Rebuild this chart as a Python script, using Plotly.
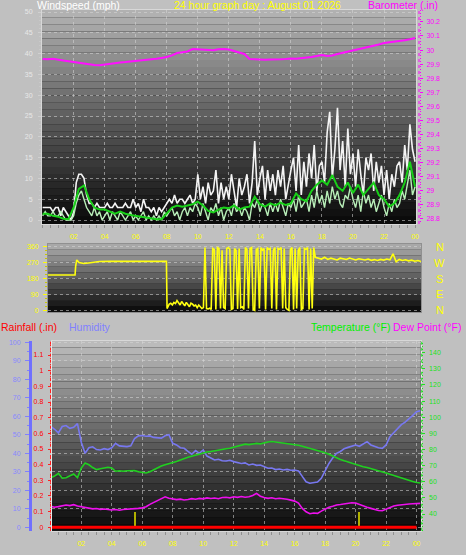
import plotly.graph_objects as go

W, H = 466, 555

# ---------------- data ----------------
hour_ticks = [2, 4, 6, 8, 10, 12, 14, 16, 18, 20, 22, 24]
hour_labels = ["02", "04", "06", "08", "10", "12", "14", "16", "18", "20", "22", "00"]

# barometer (.in), every 20 min
baro_in = [
    29.936, 29.934, 29.938, 29.930, 29.925, 29.921, 29.915, 29.910, 29.902,
    29.900, 29.894, 29.892, 29.898, 29.902, 29.905, 29.912, 29.915, 29.918,
    29.922, 29.925, 29.930, 29.935, 29.938, 29.944, 29.950, 29.962, 29.979,
    29.984, 29.990, 30.007, 30.006, 30.004, 30.003, 29.999, 30.006, 30.008,
    30.004, 29.995, 29.985, 29.972, 29.936, 29.933, 29.932, 29.931, 29.933,
    29.932, 29.934, 29.936, 29.940, 29.938, 29.942, 29.943, 29.950, 29.958,
    29.964, 29.958, 29.962, 29.972, 29.980, 29.988, 30.000, 30.008, 30.016,
    30.025, 30.032, 30.040, 30.050, 30.054, 30.058, 30.064, 30.070, 30.077,
    30.085]

# wind gust (mph), every 10 min
gust_mph = [
    3, 3, 3, 3, 2, 3,   3, 1, 3, 2, 1, 0,   2, 9, 11, 11, 10, 6,
    4, 4, 3, 4, 3, 3,   3, 4, 3, 3, 4, 3,   3, 3, 4, 3, 3, 5,
    3, 4, 2, 5, 3, 3,   2, 3, 1, 3, 2, 3,   4, 5, 4, 6, 4, 5,
    5, 4, 5, 6, 4, 5,   11, 5, 8, 4, 9, 6,  7, 12, 4, 9, 5, 8,
    5, 11, 7, 3, 10, 6, 8, 11, 4, 9, 19, 6, 10, 13, 5, 12, 7, 11,
    6, 12, 8, 13, 5, 9, 12, 15, 7, 18, 6, 14, 8, 16, 10, 18, 7, 13,
    14, 9, 21, 26, 10, 17, 27, 12, 19, 8, 22, 11, 16, 8, 17, 11, 6, 15,
    12, 16, 7, 14, 9, 13, 6, 12, 5, 11, 8, 13, 14, 9, 18, 12, 23, 17,
    14]

# wind speed (mph), every 10 min
speed_mph = [
    1, 2, 1, 1, 2, 1,  1, 2, 1, 0, 0, 0,  1, 4, 6, 7, 5, 3,
    2, 1, 3, 1, 2, 0,  1, 2, 0, 2, 1, 0,  2, 1, 0, 1, 2, 0,
    1, 0, 1, 2, 0, 1,  0, 1, 0, 1, 0, 2,  1, 2, 3, 1, 2, 0,
    2, 3, 1, 3, 2, 4,  3, 1, 4, 2, 0, 3,  2, 4, 1, 3, 0, 2,
    3, 1, 4, 2, 3, 1,  3, 2, 0, 4, 3, 5,  2, 4, 3, 1, 4, 2,
    4, 2, 5, 3, 1, 4,  3, 5, 2, 6, 3, 4,  5, 2, 6, 3, 7, 4,
    6, 3, 7, 4, 8, 5,  7, 4, 3, 6, 5, 8,  5, 3, 6, 2, 7, 4,
    6, 3, 5, 2, 4, 6,  3, 1, 4, 2, 5, 3,  4, 7, 5, 9, 12, 6,
    8]

# average wind (mph), every 20 min
avg_mph = [
    1.5, 1.5, 1.0, 0.8, 0.3, 0.2, 3.0, 7.5, 8.3, 5.0, 3.0, 2.5,
    2.5, 2.0, 1.5, 2.0, 1.5, 1.2, 1.0, 0.8, 0.5, 0.3, 0.2, 0.2,
    1.5, 3.0, 3.5, 3.2, 3.5, 3.8, 4.4, 3.5, 2.2, 1.8, 2.5, 3.0,
    2.8, 3.5, 2.5, 3.0, 3.2, 5.6, 3.8, 3.2, 4.0, 3.5, 4.2, 3.6,
    4.0, 6.4, 5.0, 4.5, 7.0, 8.5, 9.5, 8.5, 10.8, 8.0, 7.0, 9.0,
    6.5, 8.5, 6.0, 7.5, 9.0, 6.0, 5.0, 3.2, 4.0, 6.0, 9.0, 14.0,
    8.0]

# wind direction (degrees)
wdir_a_hours = [0, 1.74, 1.78, 1.85, 2.0, 2.3, 2.6, 3.0, 3.3, 4.0, 5.0, 6.0, 7.0, 7.62, 7.66]
wdir_a_deg = [200, 200, 250, 285, 270, 265, 268, 272, 276, 277, 277, 277, 277, 277, 10]
wdir_b_deg = [20, 35, 40, 30, 45, 38, 55, 42, 30, 50, 35, 25, 45, 30, 20, 40, 35, 25,
              30, 15, 30, 20, 10]                       # from 7.7 h, every 0.1 h
wdir_c_deg = [15, 355, 10, 8, 12, 5, 350, 345, 5, 355, 350, 10, 340, 15, 10, 350,
              355, 345, 5, 10, 350, 340, 8, 350, 15, 20, 5, 355, 345, 10, 350, 355,
              5, 0, 345, 350, 10, 355, 340, 350, 5, 355, 345, 350, 10, 340, 355, 5,
              350, 345, 355, 10, 350, 15, 5, 0, 345, 355, 5, 350, 10, 340, 355, 5,
              10, 350, 345, 355, 5, 350, 10, 355, 300]   # from 10.0 h, every 0.1 h
wdir_d_deg = [295, 290, 300, 288, 295, 292, 285, 295, 290, 288, 296, 290, 285, 292,
              288, 285, 290, 283, 287, 282, 288, 284, 290, 286, 320, 275, 288, 282,
              286, 280, 284, 278, 282, 276]             # from 17.4 h, every 0.2 h
compass_deg = [360, 270, 180, 90, 0]
compass_labels = ["N", "W", "S", "E", "N"]

# humidity (%), every 15 min
humidity_pct = [
    54.5, 53, 51, 54.5, 55, 53.5, 54, 56, 46, 40, 43, 43.5, 42, 41.8, 42.5, 42,
    43, 45.4, 44, 43.6, 43.6, 44, 48, 49.4, 49.6, 49.2, 49.4, 48.6, 48.4, 48.2,
    49.5, 50, 45.4, 44.5, 43, 42.7, 41, 39.5, 41.5, 40, 41.8, 38.5, 37.5, 36.4,
    36.8, 36, 35.8, 36.2, 35.5, 35, 34.5, 34.8, 33.7, 34.2, 33.5, 33.7, 33, 31.9,
    32, 31.2, 31.5, 31, 31.3, 30.8, 31, 30.5, 27.5, 24.6, 23.8, 24.2, 24.5, 26.5,
    30.5, 34.5, 37.5, 40, 41, 42.5, 43.2, 44, 44.5, 43.8, 45, 46.3, 44.5, 43.6,
    43, 42.7, 44.5, 49, 51, 53.5, 55.5, 56.8, 58.5, 60.5, 62.5, 63]

# temperature (F), every 15 min
temp_f = [
    62.5, 63.5, 65.2, 62.2, 62.5, 63.5, 64.8, 62.5, 68.5, 71.6, 70.5, 68.8,
    67.5, 68, 68.6, 69, 68.5, 66.5, 66.8, 66.5, 66.8, 67, 66.9, 66.2, 65.6,
    65.4, 66.2, 67.5, 68.6, 69.8, 70.6, 71.2, 72, 72.6, 73.5, 74.5, 75.2, 75.8,
    76.5, 77, 77.8, 78.4, 78.7, 79.2, 79.8, 80.2, 80.5, 80.8, 81.5, 82, 82.8,
    83.3, 83, 83.6, 83.8, 83.5, 84.2, 84.6, 84.9, 84.6, 84.5, 84, 83.8, 83.5,
    83, 82.6, 82, 81.4, 80.8, 80.2, 79.6, 79, 78, 77, 75.8, 74.6, 73.8, 73,
    72.2, 71.3, 70.6, 70, 69.3, 68.8, 68.2, 67.6, 67, 66.2, 65.4, 64.6, 63.8,
    63.2, 62.4, 61.6, 61, 60.2, 59.5, 59.2]

# dew point (F), every 15 min
dew_f = [
    44.8, 44.2, 44.6, 45, 45.6, 45.2, 45.8, 45, 44.5, 44, 43.8, 43.2, 43.4,
    42.9, 43.1, 42.6, 42.5, 42.8, 42.3, 42.8, 42.9, 43, 43.3, 43.5, 43.8, 44.5,
    46, 47.2, 48.3, 50, 50.7, 49.8, 49.4, 48.9, 49.2, 48.7, 49, 49.5, 49.2, 49.7,
    49.4, 50, 49.6, 49.9, 49.5, 50.2, 50.4, 50, 50.7, 50.3, 50.8, 50.4, 50.7,
    51.5, 52.8, 51, 50.2, 49.7, 50.1, 49.5, 49.8, 49.7, 49.2, 48.6, 48, 46.8,
    43.5, 41.4, 40.2, 40.6, 40.4, 41.8, 43, 44.2, 44.8, 45.6, 45.9, 46.2, 46.6,
    47, 46.8, 45.8, 45, 44.2, 43.5, 42.8, 42.2, 42, 43, 44.5, 45, 45.4, 45.8,
    46, 46.2, 46.4, 46.5, 46.6]

# rainfall (.in), hourly
rain_in = [0.0] * 25
# event marks on rainfall axis
event_hours = [5.5, 20.2]
event_in = [0.1, 0.1]

# ---------------- helpers ----------------
def xd(p0, p1):
    return [p0 / W, p1 / W]

def yd(top, bottom):
    return [1 - bottom / H, 1 - top / H]

FONT = "Liberation Sans, Arial, sans-serif"
GRID = "rgba(215,215,215,0.55)"

t10 = [i / 6 for i in range(len(gust_mph))]
t10s = [i / 6 for i in range(len(speed_mph))]
t20 = [i / 3 for i in range(len(avg_mph))]
t20b = [i / 3 for i in range(len(baro_in))]
t15 = [i / 4 for i in range(len(humidity_pct))]
t15t = [i / 4 for i in range(len(temp_f))]
t15d = [i / 4 for i in range(len(dew_f))]
t_rain = [float(i) for i in range(len(rain_in))]

wdir_hours = (wdir_a_hours
              + [round(7.7 + 0.1 * i, 2) for i in range(len(wdir_b_deg))]
              + [round(10.0 + 0.1 * i, 2) for i in range(len(wdir_c_deg))]
              + [round(17.4 + 0.2 * i, 2) for i in range(len(wdir_d_deg))])
wdir_deg = wdir_a_deg + wdir_b_deg + wdir_c_deg + wdir_d_deg

fig = go.Figure()

# ---------------- top panel ----------------
fig.add_trace(go.Scatter(x=t10, y=gust_mph, mode="lines", xaxis="x", yaxis="y",
                         line=dict(color="#f4f4f4", width=1.6), hoverinfo="skip"))
fig.add_trace(go.Scatter(x=t10s, y=speed_mph, mode="lines", xaxis="x", yaxis="y",
                         line=dict(color="#b8eeb8", width=1.4), hoverinfo="skip"))
fig.add_trace(go.Scatter(x=t20, y=avg_mph, mode="lines", xaxis="x", yaxis="y",
                         line=dict(color="#18d018", width=2), hoverinfo="skip"))
fig.add_trace(go.Scatter(x=t20b, y=baro_in, mode="lines", xaxis="x", yaxis="y2",
                         line=dict(color="#ff10ff", width=2), hoverinfo="skip"))

# ---------------- middle panel ----------------
fig.add_trace(go.Scatter(x=wdir_hours, y=wdir_deg, mode="lines", xaxis="x2", yaxis="y3",
                         line=dict(color="#ffff10", width=1.6), hoverinfo="skip"))

# ---------------- bottom panel ----------------
fig.add_trace(go.Bar(x=event_hours, y=event_in, xaxis="x3", yaxis="y5", width=0.15,
                     marker=dict(color="#b0b000", line=dict(width=0)), hoverinfo="skip"))
fig.add_trace(go.Scatter(x=t15, y=humidity_pct, mode="lines", xaxis="x3", yaxis="y6",
                         line=dict(color="#7878f0", width=1.6), hoverinfo="skip"))
fig.add_trace(go.Scatter(x=t15t, y=temp_f, mode="lines", xaxis="x3", yaxis="y7",
                         line=dict(color="#20d020", width=1.6), hoverinfo="skip"))
fig.add_trace(go.Scatter(x=t15d, y=dew_f, mode="lines", xaxis="x3", yaxis="y7",
                         line=dict(color="#ee10ee", width=1.6), hoverinfo="skip"))
fig.add_trace(go.Scatter(x=t_rain, y=rain_in, mode="lines", xaxis="x3", yaxis="y5",
                         line=dict(color="#ff0000", width=3), hoverinfo="skip"))

tickfont = dict(family=FONT, size=7)

def xaxis_cfg(domain, rng, anchor, labels=True, grid=True, linecolor="#d8d8d8"):
    return dict(domain=domain, range=rng, anchor=anchor,
                tickmode="array", tickvals=hour_ticks, ticktext=hour_labels,
                showticklabels=labels, tickfont=dict(tickfont, color="#ffff00"),
                ticks="outside" if labels else "", ticklen=3, tickcolor="#909090",
                ticklabelstandoff=3,
                minor=dict(tick0=0, dtick=0.5, ticks="outside" if labels else "",
                           ticklen=3, tickcolor="#909090", showgrid=False),
                showgrid=grid, gridcolor=GRID, griddash="dot", gridwidth=1,
                showline=True, linecolor=linecolor, linewidth=1, mirror=True,
                zeroline=False, fixedrange=True)

layout = dict(
    width=W, height=H, margin=dict(l=0, r=0, t=0, b=0, autoexpand=False),
    paper_bgcolor="#c0c0c0", plot_bgcolor="#000000",
    showlegend=False, bargap=0,
    xaxis=xaxis_cfg(xd(42, 416), [-0.04, 24.06], "y"),
    yaxis=dict(domain=yd(10, 224), range=[-0.96, 50.48], anchor="x",
               tickmode="array", tickvals=list(range(0, 51, 5)),
               tickfont=dict(tickfont, color="#e8e8e8"),
               ticks="outside", ticklen=3, tickcolor="#d0d0d0", ticklabelstandoff=4,
               minor=dict(dtick=1, ticks="outside", ticklen=2, tickcolor="#c8c8c8", showgrid=False),
               showgrid=True, gridcolor=GRID, griddash="dot",
               showline=True, linecolor="#d8d8d8", mirror=True, zeroline=False,
               fixedrange=True),
    yaxis2=dict(overlaying="y", side="right", anchor="free", position=419 / W,
                range=[28.762, 30.285], tickmode="array",
                tickvals=[28.8, 28.9, 29.0, 29.1, 29.2, 29.3, 29.4, 29.5, 29.6, 29.7,
                          29.8, 29.9, 30.0, 30.1, 30.2],
                ticktext=["28.8", "28.9", "29", "29.1", "29.2", "29.3", "29.4", "29.5",
                          "29.6", "29.7", "29.8", "29.9", "30", "30.1", "30.2"],
                tickfont=dict(tickfont, color="#ff00ff"),
                ticks="outside", ticklen=3, tickcolor="#ff00ff", ticklabelstandoff=2,
                minor=dict(dtick=0.02, tick0=28.8, ticks="outside", ticklen=1, tickcolor="#ff00ff"),
                showgrid=False, showline=False, zeroline=False, fixedrange=True),
    xaxis2=xaxis_cfg(xd(48, 421), [0, 24], "y3", labels=False, grid=False, linecolor="#909090"),
    yaxis3=dict(domain=yd(244, 312), range=[-9.6, 375.3], anchor="x2",
                tickmode="array", tickvals=[0, 90, 180, 270, 360],
                tickfont=dict(tickfont, color="#ffff00"),
                ticks="outside", ticklen=4, tickcolor="#ffff00", ticklabelstandoff=3,
                minor=dict(dtick=22.5, tick0=0, ticks="outside", ticklen=2, tickcolor="#c8c800"),
                showgrid=True, gridcolor=GRID, griddash="dot",
                showline=True, linecolor="#909090", mirror=True, zeroline=False,
                fixedrange=True),
    xaxis3=xaxis_cfg(xd(51.7, 420.7), [0.06, 24.27], "y5"),
    yaxis5=dict(domain=yd(340.7, 530.7), range=[-0.0217, 1.1916], anchor="x3",
                tickmode="array", tickvals=[i / 10 for i in range(13)],
                ticktext=["0", "0.1", "0.2", "0.3", "0.4", "0.5", "0.6", "0.7", "0.8",
                          "0.9", "1", "1.1", "1.2"],
                tickfont=dict(tickfont, color="#ff0000"),
                ticks="outside", ticklen=3, tickcolor="#ff2020", ticklabelstandoff=3,
                minor=dict(dtick=0.02, tick0=0, ticks="outside", ticklen=1, tickcolor="#ff2020"),
                showgrid=False, showline=True, linecolor="#e8e8e8", mirror=True, zeroline=False,
                fixedrange=True),
    yaxis6=dict(overlaying="y5", side="left", anchor="free", position=30 / W,
                range=[-1.84, 100.86], tickmode="array", tickvals=list(range(0, 101, 10)),
                tickfont=dict(tickfont, color="#8888ff"),
                ticks="outside", ticklen=4, tickcolor="#8080ff", ticklabelstandoff=3,
                minor=dict(dtick=5, tick0=0, ticks="outside", ticklen=2, tickcolor="#8080ff"),
                showgrid=True, gridcolor=GRID, griddash="dot",
                showline=True, linecolor="#7070ff", linewidth=3, zeroline=False,
                fixedrange=True),
    yaxis7=dict(overlaying="y5", side="right", anchor="x3",
                range=[29.65, 147.44], tickmode="array", tickvals=list(range(40, 141, 10)),
                tickfont=dict(tickfont, color="#20e020"),
                ticks="outside", ticklen=3, tickcolor="#20e020", ticklabelstandoff=3,
                minor=dict(dtick=2, tick0=40, ticks="outside", ticklen=1, tickcolor="#20e020"),
                showgrid=False, showline=False, zeroline=False, fixedrange=True),
)
fig.update_layout(**layout)

# gradient backgrounds
def add_gradient(xref, yref, top, bottom, n):
    for i in range(n):
        level = bottom + (top - bottom) * (i + 0.5) / n
        c = int(round(level))
        fig.add_shape(type="rect", xref=xref, yref=yref, x0=0, x1=1,
                      y0=i / n, y1=(i + 1) / n, fillcolor=f"rgb({c},{c},{c})",
                      line=dict(width=0), layer="below")

add_gradient("x domain", "y domain", 180, 8, 30)
add_gradient("x2 domain", "y3 domain", 175, 8, 12)
add_gradient("x3 domain", "y5 domain", 190, 8, 28)

# dotted colored axis lines
def vline(px, top, bottom, color):
    fig.add_shape(type="line", xref="paper", yref="paper", x0=px / W, x1=px / W,
                  y0=1 - bottom / H, y1=1 - top / H, line=dict(color=color, width=1, dash="dot"))

vline(419, 10, 224, "#ff00ff")
vline(421.7, 340.7, 530.7, "#20e020")
vline(50.5, 340.7, 530.7, "#ff2020")

# compass letters beside the wind-direction panel
for deg, lab in zip(compass_deg, compass_labels):
    fig.add_annotation(text=lab, xref="paper", yref="y3", x=439.5 / W, y=deg,
                       xanchor="center", yanchor="middle", showarrow=False,
                       font=dict(family=FONT, size=11, color="#ffff00"))

# titles
def title(text, px, py, color, anchor="left", size=10.5):
    fig.add_annotation(text=text, xref="paper", yref="paper", x=px / W, y=1 - py / H,
                       xanchor=anchor, yanchor="middle", showarrow=False,
                       font=dict(family=FONT, size=size, color=color))

title("Windspeed (mph)", 35, 5, "#ffffff")
title("24 hour graph day : August 01 2026", 172, 5, "#ffff00")
title("Barometer (.in)", 440, 5, "#ff00ff", anchor="right")
title("Rainfall (.in)", -1, 327, "#ff0000")
title("Humidity", 67, 327, "#8080ff")
title("Temperature (°F)", 392, 327, "#00f000", anchor="right")
title("Dew Point (°F)", 463, 327, "#ff00ff", anchor="right")

fig.write_html("out.html", config={"displayModeBar": False},
               post_script="document.body.style.margin='0';document.body.style.padding='0';")
